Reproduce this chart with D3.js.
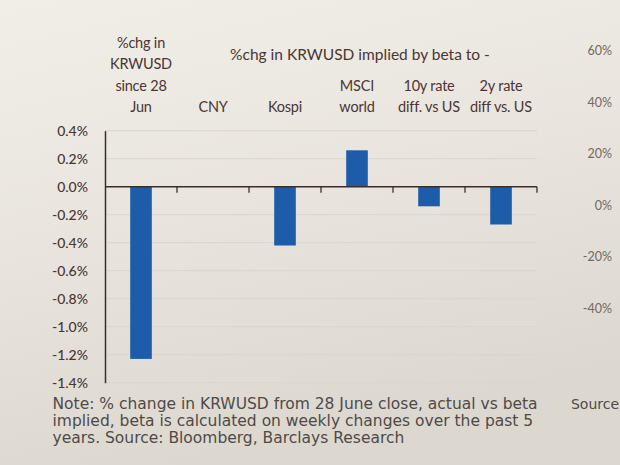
<!DOCTYPE html>
<html>
<head>
<meta charset="utf-8">
<script src="https://cdn.jsdelivr.net/npm/d3@7"></script>
<style>
  html, body { margin: 0; padding: 0; background: #e9e5dd; }
  svg { display: block; }
</style>
</head>
<body>
<svg id="chart" width="620" height="465"></svg>
<script>
// ---- data ----
const categories = ["KRWUSD", "CNY", "Kospi", "MSCI world", "10y rate diff. vs US", "2y rate diff vs. US"];
const categoryLabels = [
  ["%chg in", "KRWUSD", "since 28", "Jun"],
  ["CNY"],
  ["Kospi"],
  ["MSCI", "world"],
  ["10y rate", "diff. vs US"],
  ["2y rate", "diff vs. US"]
];
const values = [-1.23, 0.0, -0.42, 0.26, -0.14, -0.27];
const yTicks = [0.4, 0.2, 0.0, -0.2, -0.4, -0.6, -0.8, -1.0, -1.2, -1.4];
const headerText = "%chg in KRWUSD implied by beta to -";
const rightTicks = [60, 40, 20, 0, -20, -40];
const noteLines = [
  "Note: % change in KRWUSD from 28 June close, actual vs beta",
  "implied, beta is calculated on weekly changes over the past 5",
  "years. Source: Bloomberg, Barclays Research"
];
const cutText = "Source";

// ---- layout ----
const svg = d3.select("#chart");
const defs = svg.append("defs");
const grad = defs.append("linearGradient").attr("id", "bg")
  .attr("x1", "0").attr("y1", "0").attr("x2", "0.3").attr("y2", "1");
grad.append("stop").attr("offset", "0").attr("stop-color", "#f1eee8");
grad.append("stop").attr("offset", "0.5").attr("stop-color", "#e9e5de");
grad.append("stop").attr("offset", "1").attr("stop-color", "#dcd8d0");
svg.append("rect").attr("width", 620).attr("height", 465).attr("fill", "url(#bg)");

const plot = { left: 105, right: 537, top: 130.7, bottom: 382.7 };
const x = d3.scaleBand().domain(categories).range([plot.left, plot.right]).paddingInner(0.7).paddingOuter(0.35);
const y = d3.scaleLinear().domain([0.4, -1.4]).range([plot.top, plot.bottom]);

const textColor = "#4a3633";
const axisColor = "#3b2e2a";
const chartFont = "Lato, 'Liberation Sans', sans-serif";

// faint gridlines
svg.append("g").selectAll("line").data(yTicks).join("line")
  .attr("x1", plot.left).attr("x2", plot.right)
  .attr("y1", d => y(d)).attr("y2", d => y(d))
  .attr("stroke", "#d9d5cd").attr("stroke-width", 1);

// bars
svg.append("g").selectAll("rect").data(values).join("rect")
  .attr("x", (d, i) => x(categories[i]))
  .attr("width", x.bandwidth())
  .attr("y", d => y(Math.max(0, d)))
  .attr("height", d => Math.abs(y(d) - y(0)))
  .attr("fill", "#1c5ca8");

// y axis
const fmt = d => d3.format(".1f")(d).replace("\u2212", "-") + "%";
const yAxis = svg.append("g").attr("transform", `translate(${plot.left},0)`)
  .call(d3.axisLeft(y).tickValues(yTicks).tickFormat(fmt).tickSize(0).tickPadding(17));
yAxis.select(".domain").attr("stroke", axisColor).attr("stroke-width", 1.5);
yAxis.selectAll("text").attr("fill", textColor).attr("font-family", chartFont)
  .attr("font-size", 14).attr("font-weight", 500);

// x axis at zero
const xAxisG = svg.append("g");
xAxisG.append("line")
  .attr("x1", plot.left).attr("x2", plot.right)
  .attr("y1", y(0)).attr("y2", y(0))
  .attr("stroke", axisColor).attr("stroke-width", 1.5);
const tickPos = d3.range(1, categories.length + 1).map(i => plot.left + i * x.step());
xAxisG.selectAll("line.tick").data(tickPos).join("line").attr("class", "tick")
  .attr("x1", d => d).attr("x2", d => d)
  .attr("y1", y(0)).attr("y2", y(0) + 6)
  .attr("stroke", axisColor).attr("stroke-width", 1.3);

// category labels (bottom-aligned above plot)
const lineH = 21.5;
const labelBase = 108;
categoryLabels.forEach((lines, i) => {
  const cx = x(categories[i]) + x.bandwidth() / 2;
  svg.append("text")
    .attr("x", cx).attr("text-anchor", "middle")
    .attr("font-family", chartFont).attr("font-size", 14.5).attr("fill", textColor)
    .attr("letter-spacing", -0.2)
    .selectAll("tspan").data(lines).join("tspan")
    .attr("x", cx)
    .attr("y", (d, j) => labelBase + 4 - (lines.length - 1 - j) * lineH)
    .text(d => d);
});

// header
svg.append("text").attr("x", 360).attr("y", 60).attr("text-anchor", "middle")
  .attr("font-family", chartFont).attr("font-size", 15.5).attr("fill", textColor)
  .text(headerText);

// right side axis labels from adjacent chart (cropped)
const yR = d3.scaleLinear().domain([60, -40]).range([51, 309]);
svg.append("g").selectAll("text").data(rightTicks).join("text")
  .attr("x", 612).attr("y", d => yR(d) + 4).attr("text-anchor", "end")
  .attr("font-family", chartFont).attr("font-size", 12.5).attr("fill", "#74685f")
  .text(d => d + "%");

// note
const noteFont = "'DejaVu Sans', Verdana, sans-serif";
svg.append("g").selectAll("text").data(noteLines).join("text")
  .attr("x", 52.5).attr("y", (d, i) => 408.5 + i * 17)
  .attr("font-family", noteFont).attr("font-size", 15.5).attr("fill", "#4f4a47")
  .text(d => d);
svg.append("text").attr("x", 619).attr("y", 408.5).attr("text-anchor", "end")
  .attr("font-family", noteFont).attr("font-size", 14.5).attr("fill", "#4f4a47")
  .attr("textLength", 48).attr("lengthAdjust", "spacingAndGlyphs")
  .text(cutText);
</script>
</body>
</html>
